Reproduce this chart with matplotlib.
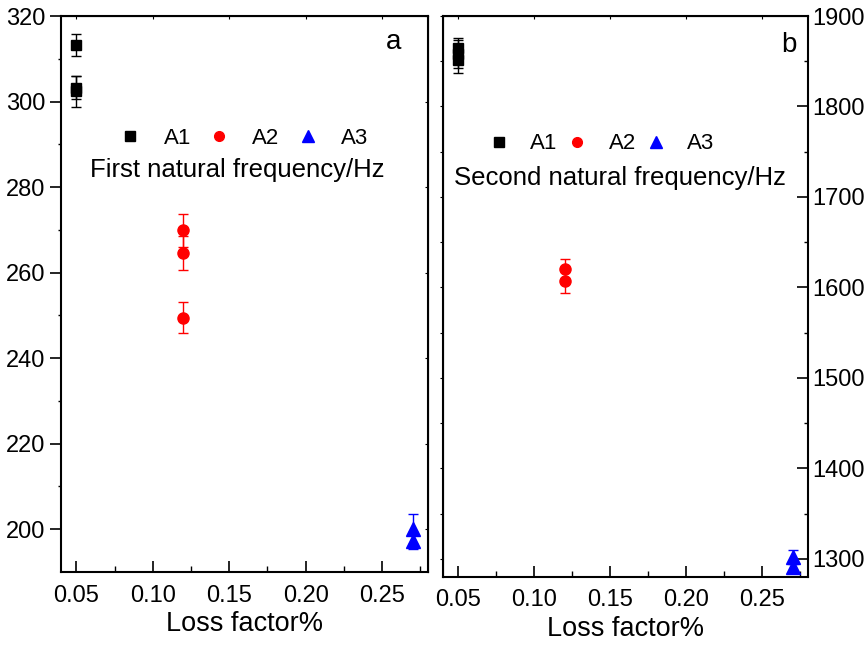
import matplotlib
matplotlib.use("Agg")
from matplotlib import pyplot as plt
from matplotlib.lines import Line2D

plt.rcParams["font.family"] = ["Liberation Sans", "DejaVu Sans"]

# loss factor of each group (panel a)
loss_a1 = [0.05, 0.05, 0.05]
loss_a2 = [0.12, 0.12, 0.12]
loss_a3 = [0.27, 0.27]

# first natural frequency (Hz) and error
f1_a1 = [313.2, 303.2, 302.4]
f1_a1_err = [2.5, 2.7, 3.6]
f1_a2 = [269.9, 264.6, 249.5]
f1_a2_err = [3.8, 3.9, 3.6]
f1_a3 = [200.0, 197.3]
f1_a3_err = [3.5, 2.0]

# loss factor of each group (panel b)
loss_b1 = [0.05, 0.05, 0.05]
loss_b2 = [0.12, 0.12]
loss_b3 = [0.27, 0.27]

# second natural frequency (Hz) and error
f2_a1 = [1865, 1858, 1851]
f2_a1_err = [11, 15, 14]
f2_a2 = [1620, 1607]
f2_a2_err = [11, 13]
f2_a3 = [1302, 1291]
f2_a3_err = [8, 4]

groups = ["A1", "A2", "A3"]
colors = ["black", "red", "blue"]
markers = ["s", "o", "^"]
msizes = [7.5, 8, 9.5]


def draw_points(ax, xs, ys, errs):
    for x, y, e, c, m, ms in zip(xs, ys, errs, colors, markers, msizes):
        ax.errorbar(x, y, yerr=e, fmt=m, color=c, ecolor=c, markersize=ms,
                    capsize=3.5, elinewidth=1.0, capthick=1.0, linestyle="none")


def add_legend(ax, x, y, pad, colsp):
    handles = [Line2D([], [], marker=m, color=c, linestyle="none", markersize=ms - 1)
               for c, m, ms in zip(colors, markers, msizes)]
    ax.legend(handles, groups, ncol=3, frameon=False, fontsize=16,
              loc="center", bbox_to_anchor=(x, y), handletextpad=pad,
              columnspacing=colsp, handlelength=1.0, borderaxespad=0)


def style_axes(ax):
    for s in ax.spines.values():
        s.set_linewidth(1.5)
    ax.set_xlim(0.04, 0.28)
    ax.set_xticks([0.05, 0.10, 0.15, 0.20, 0.25])
    ax.set_xticklabels(["0.05", "0.10", "0.15", "0.20", "0.25"])
    ax.set_xticks([0.075, 0.125, 0.175, 0.225, 0.275], minor=True)
    ax.tick_params(axis="x", which="major", direction="in", length=8, width=1.2,
                   labelsize=17, pad=9)
    ax.tick_params(axis="x", which="minor", direction="in", length=4, width=1.0)
    ax.set_xlabel("Loss factor%", fontsize=19.5, labelpad=3)
    top = ax.secondary_xaxis("top")
    top.set_xticks([0.05, 0.10, 0.15, 0.20, 0.25])
    top.tick_params(direction="in", length=2.5, width=0.8, labeltop=False)
    top.set_xticklabels([])


fig = plt.figure(figsize=(8.67, 6.45), dpi=100)

# panel a
ax1 = fig.add_axes([61 / 867, 73 / 645, 367 / 867, 556 / 645])
draw_points(ax1, [loss_a1, loss_a2, loss_a3], [f1_a1, f1_a2, f1_a3],
            [f1_a1_err, f1_a2_err, f1_a3_err])
style_axes(ax1)
ax1.set_ylim(190, 320)
ax1.set_yticks([200, 220, 240, 260, 280, 300, 320])
ax1.set_yticks([210, 230, 250, 270, 290, 310], minor=True)
ax1.tick_params(axis="y", which="major", direction="out", length=8, width=1.2,
                labelsize=17, pad=3)
ax1.tick_params(axis="y", which="minor", direction="out", length=2, width=1.0)
r1 = ax1.secondary_yaxis("right")
r1.set_yticks([200, 220, 240, 260, 280, 300, 320])
r1.tick_params(direction="in", length=2.5, width=0.8, labelright=False)
r1.set_yticklabels([])
add_legend(ax1, 0.498, 0.78, 1.0, 0.76)
ax1.text(0.48, 0.723, "First natural frequency/Hz", transform=ax1.transAxes,
         ha="center", va="center", fontsize=18.5)
ax1.text(0.905, 0.953, "a", transform=ax1.transAxes, ha="center", va="center",
         fontsize=20)

# panel b
ax2 = fig.add_axes([443 / 867, 68 / 645, 365 / 867, 561 / 645])
draw_points(ax2, [loss_b1, loss_b2, loss_b3], [f2_a1, f2_a2, f2_a3],
            [f2_a1_err, f2_a2_err, f2_a3_err])
style_axes(ax2)
ax2.set_ylim(1280, 1900)
ax2.yaxis.tick_right()
ax2.set_yticks([1300, 1400, 1500, 1600, 1700, 1800, 1900])
ax2.set_yticks([1350, 1450, 1550, 1650, 1750, 1850], minor=True)
ax2.tick_params(axis="y", which="major", direction="in", length=8, width=1.2,
                labelsize=17, pad=3)
ax2.tick_params(axis="y", which="minor", direction="in", length=3, width=1.0)
l2 = ax2.secondary_yaxis("left")
l2.set_yticks([1300, 1350, 1400, 1450, 1500, 1550, 1600, 1650, 1700, 1750,
               1800, 1850, 1900])
l2.tick_params(direction="out", length=2, width=0.8, labelleft=False)
l2.set_yticklabels([])
add_legend(ax2, 0.433, 0.772, 0.9, 0.4)
ax2.text(0.4836, 0.711, "Second natural frequency/Hz", transform=ax2.transAxes,
         ha="center", va="center", fontsize=18.5)
ax2.text(0.948, 0.948, "b", transform=ax2.transAxes, ha="center", va="center",
         fontsize=20)

fig.savefig("out.png", dpi=100)
